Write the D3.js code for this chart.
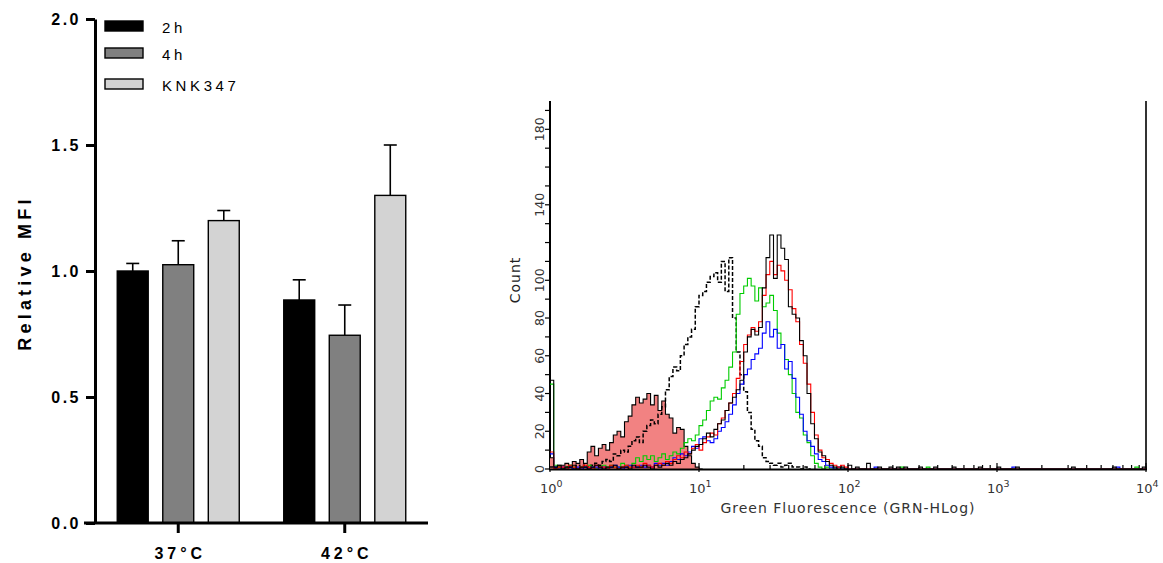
<!DOCTYPE html>
<html>
<head>
<meta charset="utf-8">
<script src="https://cdn.jsdelivr.net/npm/d3@7/dist/d3.min.js"></script>
<style>
  body { margin: 0; background: #fff; }
</style>
</head>
<body>
<script>
// ---- bar chart data ----
var groups = ['37°C', '42°C'];
var seriesNames = ['2h', '4h', 'KNK347'];
var seriesColors = ['#000000', '#808080', '#d3d3d3'];
var mean2h = [1.00, 0.885];
var mean4h = [1.025, 0.745];
var meanKNK = [1.20, 1.30];
var err2h = [0.03, 0.08];
var err4h = [0.095, 0.12];
var errKNK = [0.04, 0.20];
var barTicks = [0, 0.5, 1.0, 1.5, 2.0];

// ---- histogram data (counts per channel, 40 channels per decade from 10^0) ----
var binsPerDecade = 40;
var negCtrl = [6,1,2,2,3,2,4,3,5,3, 9,12,7,11,13,10,14,18,20,17,
  25,28,34,38,35,37,40,34,39,31, 36,29,27,19,22,21,12,7,3,1, 0];
var dashedCounts = [1,0,1,0,1,1,0,2,1,2, 1,2,3,2,4,5,4,8,7,10,
  9,12,15,17,14,20,23,26,24,29, 33,42,49,54,52,60,66,70,74,86,
  92,94,99,102,104,99,110,94,112,80, 62,50,41,30,21,15,12,6,4,3,
  2,3,1,2,3,1,1,0,1,0];
var greenCounts = [45,2,1,0,1,2,1,0,1,1, 2,1,0,1,2,1,2,1,1,3,
  2,1,3,6,4,7,5,7,4,6, 8,5,7,9,8,11,14,16,15,18,
  23,26,31,36,38,37,43,47,54,62, 82,93,97,101,97,89,96,86,88,92,
  84,72,66,58,50,40,30,27,18,14, 7,3,1,0,1,0,0,1,0,0];
var blueCounts = [8,1,0,1,0,1,0,1,0,1, 0,1,1,0,1,0,1,2,1,0,
  1,2,1,1,2,1,2,1,3,2, 3,2,4,6,5,8,7,9,12,11,
  16,17,15,14,16,20,22,25,29,34, 40,45,50,53,58,61,64,72,78,70,
  74,64,66,53,57,48,38,29,20,15, 12,8,5,4,2,1,0,1,0,0];
var redCounts = [9,0,1,1,0,2,1,0,1,2, 1,0,2,1,1,0,2,1,0,1,
  2,1,1,2,1,3,2,1,2,3, 2,4,3,5,7,6,9,8,11,13,
  10,14,17,19,18,24,27,31,35,40, 48,57,66,71,75,73,78,92,103,110,
  103,108,105,100,95,85,78,66,56,45, 30,18,10,6,5,3,2,1,0,1];
var blackCounts = [47,1,2,0,1,1,2,0,1,1, 0,1,2,1,0,1,1,2,0,1,
  1,0,2,1,1,2,1,0,2,1, 2,3,2,4,3,5,6,8,10,12,
  13,16,19,17,21,24,26,31,35,38, 42,47,62,70,74,71,75,96,112,124,
  101,124,117,111,86,82,80,68,60,40, 24,16,9,7,4,2,1,0,1,0];
// sparse events in the high tail: [fluorescence, count]
var blackTail = [[105,2],[118,1],[140,3],[165,1],[190,1],[215,1],[240,1],[310,1],[390,1],
  [520,1],[760,1],[1050,1],[1400,1],[3300,1],[6200,1],[9700,1]];
var blueTail = [[152,1],[1330,1],[6500,1]];
var greenTail = [[230,1],[340,1],[8800,1]];
var redTail = [[90,2]];
var countTicks = d3.range(0, 191, 10);
var countLabels = [0, 20, 40, 60, 80, 100, 140, 180];
var decades = [0, 1, 2, 3, 4];

var W = 1163, H = 563;
var svg = d3.select('body').append('svg').attr('width', W).attr('height', H);
var lf = 'Liberation Sans, Arial, sans-serif';

// ================= bar chart =================
var y = d3.scaleLinear().domain([0, 2]).range([523, 19]);
var x0 = d3.scalePoint().domain(groups).range([95, 428]).padding(0.5);
var x1 = d3.scaleBand().domain(seriesNames).range([-61, 61]).paddingInner(0.32);
var means = [mean2h, mean4h, meanKNK];
var errs = [err2h, err4h, errKNK];

var bars = [];
groups.forEach(function (g, gi) {
  seriesNames.forEach(function (s, si) {
    bars.push({ g: g, s: s, v: means[si][gi], e: errs[si][gi], c: seriesColors[si] });
  });
});
function cx(d) { return x0(d.g) + x1(d.s) + x1.bandwidth() / 2; }

var bg = svg.append('g');
bg.selectAll('line.err').data(bars).enter().append('line')
  .attr('x1', cx).attr('x2', cx)
  .attr('y1', function (d) { return y(d.v); })
  .attr('y2', function (d) { return y(d.v + d.e); })
  .attr('stroke', '#000').attr('stroke-width', 1.6);
bg.selectAll('line.cap').data(bars).enter().append('line')
  .attr('x1', function (d) { return cx(d) - 6.5; })
  .attr('x2', function (d) { return cx(d) + 6.5; })
  .attr('y1', function (d) { return y(d.v + d.e); })
  .attr('y2', function (d) { return y(d.v + d.e); })
  .attr('stroke', '#000').attr('stroke-width', 1.6);
bg.selectAll('rect').data(bars).enter().append('rect')
  .attr('x', function (d) { return x0(d.g) + x1(d.s); })
  .attr('y', function (d) { return y(d.v); })
  .attr('width', x1.bandwidth())
  .attr('height', function (d) { return y(0) - y(d.v); })
  .attr('fill', function (d) { return d.c; })
  .attr('stroke', '#000').attr('stroke-width', 1.4);

var yAxis = svg.append('g').attr('transform', 'translate(95,0)')
  .call(d3.axisLeft(y).tickValues(barTicks).tickFormat(d3.format('.1f')).tickSize(9).tickSizeOuter(0).tickPadding(5));
yAxis.select('.domain').attr('stroke-width', 3);
yAxis.selectAll('.tick line').attr('stroke-width', 3);
yAxis.selectAll('text').style('font-family', lf)
  .style('font-size', '16px').style('font-weight', 'bold').style('letter-spacing', '2.5px').attr('fill', '#000');

svg.append('line').attr('x1', 84).attr('x2', 428).attr('y1', y(0)).attr('y2', y(0))
  .attr('stroke', '#000').attr('stroke-width', 3);
svg.selectAll('line.gt').data(groups).enter().append('line')
  .attr('x1', function (d) { return x0(d); }).attr('x2', function (d) { return x0(d); })
  .attr('y1', y(0)).attr('y2', y(0) + 10).attr('stroke', '#000').attr('stroke-width', 3);
svg.selectAll('text.gl').data(groups).enter().append('text')
  .attr('x', function (d) { return x0(d) + 2; }).attr('y', 559)
  .attr('text-anchor', 'middle')
  .style('font-family', lf).style('font-size', '16px')
  .style('font-weight', 'bold').style('letter-spacing', '4px')
  .text(function (d) { return d; });

svg.append('text').attr('transform', 'translate(31,273) rotate(-90)')
  .attr('text-anchor', 'middle')
  .style('font-family', lf).style('font-size', '18px')
  .style('font-weight', 'bold').style('letter-spacing', '4.2px')
  .text('Relative MFI');

var legY = [21, 48, 79];
var leg = svg.selectAll('g.leg').data(seriesNames).enter().append('g')
  .attr('transform', function (d, i) { return 'translate(105,' + legY[i] + ')'; });
leg.append('rect').attr('width', 38).attr('height', 10)
  .attr('fill', function (d, i) { return seriesColors[i]; })
  .attr('stroke', '#000').attr('stroke-width', 1.4);
leg.append('text').attr('x', 57).attr('y', 12)
  .style('font-family', lf).style('font-size', '15px')
  .style('letter-spacing', '3.6px')
  .text(function (d) { return d; });

// ================= histogram =================
var hx = d3.scaleLog().domain([1, 10000]).range([550, 1146]);
var hy = d3.scaleLinear().domain([0, 195]).range([469, 101]);
var NB = 4 * binsPerDecade;

function fullCounts(counts, tail, len) {
  var arr = d3.range(len).map(function (i) { return counts[i] || 0; });
  (tail || []).forEach(function (b) {
    var i = Math.floor(Math.log10(b[0]) * binsPerDecade);
    arr[i] = Math.max(arr[i], b[1]);
  });
  return arr;
}
function toPoints(arr) {
  var pts = arr.map(function (c, i) { return [Math.pow(10, i / binsPerDecade), c]; });
  pts.push([Math.pow(10, arr.length / binsPerDecade), 0]);
  return pts;
}

var hg = svg.append('g');
var line = d3.line().x(function (d) { return hx(d[0]); }).y(function (d) { return hy(d[1]); })
  .curve(d3.curveStepAfter);
var area = d3.area().x(function (d) { return hx(d[0]); }).y0(hy(0)).y1(function (d) { return hy(d[1]); })
  .curve(d3.curveStepAfter);

// axes first, curves sit on top
var hf = 'DejaVu Sans, Verdana, sans-serif';
hg.append('line').attr('x1', 550).attr('x2', 550).attr('y1', 101).attr('y2', 469)
  .attr('stroke', '#000').attr('stroke-width', 2);
hg.append('line').attr('x1', 1146).attr('x2', 1146).attr('y1', 101).attr('y2', 469)
  .attr('stroke', '#333').attr('stroke-width', 2);
hg.selectAll('line.yt').data(countTicks).enter().append('line')
  .attr('x1', 545).attr('x2', 550).attr('y1', function (d) { return hy(d); }).attr('y2', function (d) { return hy(d); })
  .attr('stroke', '#000').attr('stroke-width', 1.2);
hg.selectAll('text.yl').data(countLabels).enter().append('text')
  .attr('transform', function (d) { return 'translate(544,' + hy(d) + ') rotate(-90)'; })
  .attr('text-anchor', 'middle').attr('fill', '#333')
  .style('font-family', hf).style('font-size', '12.5px')
  .text(function (d) { return d; });
hg.append('text').attr('transform', 'translate(520,280) rotate(-90)')
  .attr('text-anchor', 'middle').attr('fill', '#222')
  .style('font-family', hf).style('font-size', '14px').style('letter-spacing', '1px').text('Count');

var minor = [];
decades.slice(0, 4).forEach(function (p) {
  d3.range(2, 10).forEach(function (m) { minor.push(m * Math.pow(10, p)); });
});
hg.selectAll('line.xm').data(minor).enter().append('line')
  .attr('x1', function (d) { return hx(d); }).attr('x2', function (d) { return hx(d); })
  .attr('y1', 465).attr('y2', 469).attr('stroke', '#000').attr('stroke-width', 1.2);
hg.selectAll('line.xM').data(decades).enter().append('line')
  .attr('x1', function (d) { return hx(Math.pow(10, d)); }).attr('x2', function (d) { return hx(Math.pow(10, d)); })
  .attr('y1', 463).attr('y2', 472).attr('stroke', '#000').attr('stroke-width', 1.2);
var xl = hg.selectAll('text.xl').data(decades).enter().append('text')
  .attr('x', function (d) { return hx(Math.pow(10, d)) - 10; }).attr('y', 493)
  .attr('fill', '#333')
  .style('font-family', hf).style('font-size', '13px');
xl.append('tspan').text('10');
xl.append('tspan').attr('dy', -6).style('font-size', '9.5px').text(function (d) { return d; });
hg.append('text').attr('x', 848).attr('y', 513).attr('text-anchor', 'middle').attr('fill', '#333')
  .style('font-family', hf).style('font-size', '14px').style('letter-spacing', '1px')
  .text('Green Fluorescence (GRN-HLog)');

// negative control, filled
var negPts = toPoints(negCtrl);
hg.append('path').attr('d', area(negPts)).attr('fill', '#f28282');
hg.append('path').attr('d', line(negPts)).attr('fill', 'none').attr('stroke', '#000').attr('stroke-width', 1.1);

var curves = [
  { c: dashedCounts, t: [], color: '#000', dash: '4,2' },
  { c: greenCounts, t: greenTail, color: '#00cc00' },
  { c: blueCounts, t: blueTail, color: '#0000ff' },
  { c: redCounts, t: redTail, color: '#ff0000' },
  { c: blackCounts, t: blackTail, color: '#000' }
];
curves.forEach(function (cv) {
  var len = cv.dash ? cv.c.length : NB;
  hg.append('path').attr('d', line(toPoints(fullCounts(cv.c, cv.t, len))))
    .attr('fill', 'none').attr('stroke', cv.color).attr('stroke-width', cv.dash ? 1.5 : 1.1)
    .attr('stroke-dasharray', cv.dash || null);
});

hg.append('line').attr('x1', 549).attr('x2', 1147).attr('y1', 469.5).attr('y2', 469.5)
  .attr('stroke', '#000').attr('stroke-width', 2.2);
</script>
</body>
</html>
